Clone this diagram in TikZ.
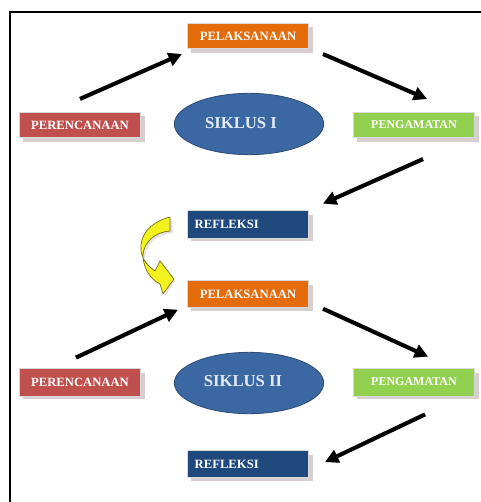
\documentclass[tikz,border=0pt]{standalone}
\usepackage{fontspec}
\setmainfont{Liberation Serif}
\usetikzlibrary{arrows.meta,calc,shapes.geometric}
\definecolor{cOrange}{HTML}{E46C0A}
\definecolor{cRed}{HTML}{C0504D}
\definecolor{cGreen}{HTML}{92D050}
\definecolor{cBlue}{HTML}{1F497D}
\definecolor{cEll}{HTML}{3B68A2}
\definecolor{cEllLine}{HTML}{2C4D78}
\definecolor{cEllText}{HTML}{E2EAF5}
\definecolor{cShadow}{HTML}{D8CDCF}
\definecolor{cYellow}{HTML}{F2F21E}
\definecolor{cYellowLine}{HTML}{6F6F10}
\tikzset{
  box/.style={rectangle, minimum width=91pt, minimum height=19pt, inner sep=0pt,
    text=white, font=\bfseries\fontsize{9.5}{10}\selectfont, draw=white!85!black, line width=0.6pt},
  shadowbox/.style={rectangle, minimum width=91pt, minimum height=19pt, inner sep=0pt,
    fill=cShadow, draw=none},
  siklus/.style={ellipse, minimum width=112pt, minimum height=46pt, inner sep=0pt,
    fill=cEll, draw=cEllLine, line width=0.6pt},
  sikltext/.style={text=cEllText, inner sep=0pt, font=\bfseries\fontsize{12.5}{13}\selectfont},
  arr/.style={line width=3pt, -{Triangle[length=10pt,width=10pt]}},
  arrshadow/.style={line width=3pt, draw=black!25, -{Triangle[length=10pt,width=10pt]}},
}
\begin{document}
\begin{tikzpicture}[x=0.75pt,y=-0.75pt]
\useasboundingbox (0,0) rectangle (480,502);
% frame
\draw[line width=1.6pt] (10,510) -- (10,12) -- (490,12);

% shadows of boxes
\foreach \cx/\cy in {248/36, 80/125, 414/125, 248/224, 248/294, 80/382, 414/382, 248/464}
  \node[shadowbox] at (\cx+4,\cy+4) {};

% boxes
\node[box, fill=cOrange] (pel1) at (248,36) {PELAKSANAAN};
\node[box, fill=cRed] (per1) at (80,125) {PERENCANAAN};
\node[box, fill=cGreen, font=\bfseries\fontsize{9}{10}\selectfont] (peng1) at (414,125) {PENGAMATAN};
\node[box, fill=cBlue, minimum height=21pt, text width=80pt, align=left] (ref1) at (248,224) {REFLEKSI};
\node[box, fill=cOrange, minimum height=20pt] (pel2) at (248,294) {PELAKSANAAN};
\node[box, fill=cRed, minimum height=21pt] (per2) at (80,382) {PERENCANAAN};
\node[box, fill=cGreen, minimum height=21pt, font=\bfseries\fontsize{9}{10}\selectfont] (peng2) at (414,382) {PENGAMATAN};
\node[box, fill=cBlue, minimum height=20pt, text width=80pt, align=left] (ref2) at (248,464) {REFLEKSI};

% ellipses
\node[siklus] (s1) at (249,124) {};
\node[sikltext] (s1t) at (241,123) {SIKLUS I};
\node[siklus] (s2) at (249,383) {};
\node[sikltext] (s2t) at (243,381) {SIKLUS II};

% arrow shadows
\begin{scope}[shift={(1.5,2.5)}]
\draw[arrshadow] ($(per1.north)+(0,-13)$) -- ($(pel1.south west)+(-5,5)$);
\draw[arrshadow] ($(pel1.south east)+(14,5)$) -- ($(peng1.north)+(13,-13)$);
\draw[arrshadow] ($(peng1.south)+(9,21)$) -- ($(ref1.north east)+(14,-6)$);
\draw[arrshadow] ($(per2.north)+(-4,-10)$) -- ($(pel2.south west)+(-9,2)$);
\draw[arrshadow] ($(pel2.south east)+(14,1)$) -- ($(peng2.north)+(14,-11)$);
\draw[arrshadow] ($(peng2.south)+(11,18)$) -- ($(ref2.east)+(16,-2)$);
\end{scope}
% arrows
\draw[arr] ($(per1.north)+(0,-13)$) -- ($(pel1.south west)+(-5,5)$);
\draw[arr] ($(pel1.south east)+(14,5)$) -- ($(peng1.north)+(13,-13)$);
\draw[arr] ($(peng1.south)+(9,21)$) -- ($(ref1.north east)+(14,-6)$);
\draw[arr] ($(per2.north)+(-4,-10)$) -- ($(pel2.south west)+(-9,2)$);
\draw[arr] ($(pel2.south east)+(14,1)$) -- ($(peng2.north)+(14,-11)$);
\draw[arr] ($(peng2.south)+(11,18)$) -- ($(ref2.east)+(16,-2)$);

% yellow curved arrow from ref1 to pel2
\coordinate (ya) at ($(ref1.west)+(-17,-7)$);
\fill[cShadow!60] ($(ya)+(2,2)$) .. controls (152,224) and (141,238) .. (143,253)
  .. controls (145,263) and (150,268) .. (157,273) -- (162,263) -- (175,281) -- (165,296) -- (162,286)
  .. controls (152,281) and (145,270) .. (145,257)
  .. controls (146,243) and (158,234) .. (173,233) -- cycle;
\filldraw[fill=cYellow, draw=cYellowLine, line width=0.5pt, line join=round]
  (ya) .. controls (150,222) and (139,236) .. (141,251)
  .. controls (143,261) and (148,266) .. (155,271) -- (160,261) -- (174,279) -- (163,294) -- (160,284)
  .. controls (150,279) and (143,268) .. (143,255)
  .. controls (144,241) and (156,232) .. ($(ya)+(0,14)$) -- cycle;
\end{tikzpicture}
\end{document}
